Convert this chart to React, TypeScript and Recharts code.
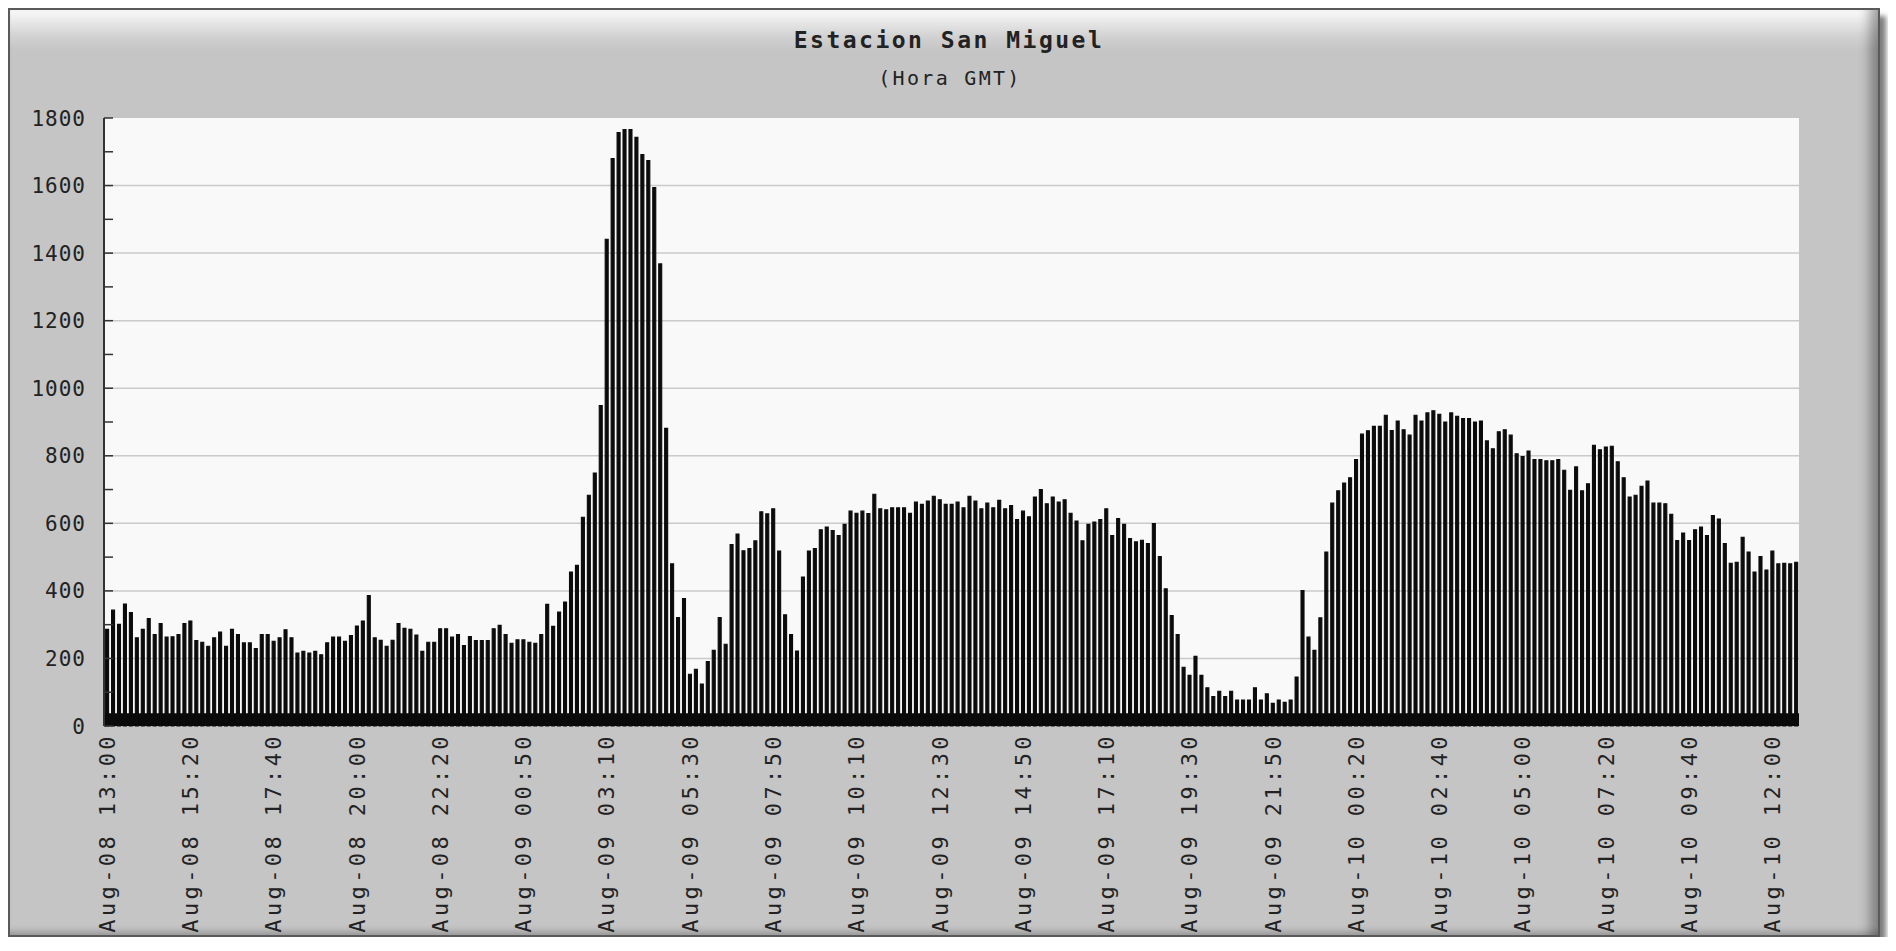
import React from "react";
import { BarChart, Bar, XAxis, YAxis, CartesianGrid, ReferenceArea } from "recharts";

// readings per calendar day, one bar per 10 minutes
const aug08Values = [
  286, 343, 301, 361, 336, 261, 286, 318, 271, 303,
  263, 264, 271, 303, 311, 253, 248, 236, 261, 278,
  236, 286, 271, 246, 246, 229, 271, 271, 251, 261,
  285, 261, 216, 221, 216, 221, 211, 246, 263, 263,
  251, 268, 296, 311, 386, 261, 254, 236, 254, 303,
  289, 286, 269, 221, 248, 248, 288, 288, 263, 271,
  238, 265, 253, 253, 253, 288,
];

const aug09Values = [
  298, 271, 245, 255, 255, 248, 245, 271, 360, 295,
  337, 367, 456, 476, 618, 683, 749, 949, 1441, 1680,
  1757, 1766, 1766, 1743, 1692, 1674, 1594, 1368, 881, 480,
  321, 377, 153, 168, 124, 191, 224, 321, 242, 537,
  568, 519, 525, 548, 634, 628, 643, 518, 329, 271,
  222, 441, 518, 525, 581, 589, 579, 564, 597, 636,
  630, 636, 629, 686, 643, 640, 646, 646, 646, 630,
  663, 656, 666, 680, 670, 656, 656, 663, 646, 680,
  666, 643, 660, 646, 668, 643, 653, 611, 636, 619,
  678, 700, 658, 678, 663, 670, 630, 607, 548, 597,
  604, 611, 643, 564, 614, 597, 555, 545, 550, 540,
  599, 502, 406, 327, 271, 174, 150, 206, 150, 113,
  87, 103, 87, 103, 77, 77, 77, 113, 77, 95,
  67, 77, 70, 77, 145, 401, 263, 224, 320, 515,
  660, 696, 719,
];

const aug10Values = [
  735, 789, 864, 874, 887, 887, 920, 875, 903, 877,
  861, 920, 903, 927, 933, 923, 900, 927, 917, 910,
  910, 900, 903, 844, 821, 871, 877, 861, 806, 798,
  814, 789, 789, 785, 785, 789, 757, 698, 767, 696,
  717, 831, 818, 826, 828, 782, 735, 678, 683, 710,
  725, 660, 660, 658, 627, 549, 571, 549, 581, 589,
  564, 623, 613, 540, 482, 485, 559, 515, 456, 502,
  462, 518, 480, 482, 480, 485,
];

// time slots with no reading
const skippedSlots = ["Aug-09 00:00", "Aug-10 00:00"];
const firstDay = 8;
const firstMinute = 13 * 60;

const yTicks = [0, 100, 200, 300, 400, 500, 600, 700, 800, 900, 1000, 1100, 1200, 1300, 1400, 1500, 1600, 1700, 1800];
const gridValues = [200, 400, 600, 800, 1000, 1200, 1400, 1600];

const pad = (n: number) => String(n).padStart(2, "0");

const values = [...aug08Values, ...aug09Values, ...aug10Values];
const times: string[] = [];
let t = firstDay * 1440 + firstMinute;
while (times.length < values.length) {
  const day = Math.floor(t / 1440);
  const m = t % 1440;
  const s = `Aug-${pad(day)} ${pad(Math.floor(m / 60))}:${pad(m % 60)}`;
  if (!skippedSlots.includes(s)) times.push(s);
  t += 10;
}
const data = values.map((v, i) => ({ time: times[i], value: v }));

const mono = "'DejaVu Sans Mono', monospace";

const TimeTick = ({ x, y, payload }: any) => (
  <text
    x={x}
    y={y}
    transform={`rotate(-90, ${x}, ${y})`}
    textAnchor="end"
    dy="0.36em"
    fontFamily={mono}
    fontSize={22}
    letterSpacing={3.4}
    fill="#222"
  >
    {payload.value}
  </text>
);

const ValueTick = ({ x, y, payload }: any) => (
  <g>
    <line x1={x} x2={x + 9} y1={y} y2={y} stroke="#333" strokeWidth={1.5} />
    {payload.value % 200 === 0 && (
      <text x={x - 18} y={y} dy="0.36em" textAnchor="end" fontFamily={mono} fontSize={21} letterSpacing={1} fill="#222">
        {payload.value}
      </text>
    )}
  </g>
);

export default function App() {
  return (
    <div
      style={{
        position: "relative",
        width: 1872,
        height: 929,
        boxSizing: "border-box",
        border: "2px solid #5a5a5a",
        background: "linear-gradient(180deg, #fafafa 0px, #d2d2d2 26px, #c5c5c5 40px, #c5c5c5 100%)",
        boxShadow:
          "inset -16px 0 12px -8px rgba(0,0,0,0.35), inset 0 -8px 6px -4px rgba(0,0,0,0.2), 6px 8px 5px rgba(0,0,0,0.5)",
      }}
    >
      <div
        style={{
          position: "absolute",
          left: 0,
          width: 1878,
          top: 17,
          textAlign: "center",
          fontFamily: mono,
          fontWeight: "bold",
          fontSize: 23,
          letterSpacing: 2.5,
          lineHeight: "26px",
          color: "#222",
        }}
      >
        Estacion San Miguel
      </div>
      <div
        style={{
          position: "absolute",
          left: 0,
          width: 1880,
          top: 56,
          textAlign: "center",
          fontFamily: mono,
          fontSize: 20,
          letterSpacing: 2.3,
          lineHeight: "24px",
          color: "#222",
        }}
      >
        (Hora GMT)
      </div>
      <div style={{ position: "absolute", left: -2, top: -2 }}>
        <BarChart
          width={1872}
          height={929}
          data={data}
          margin={{ top: 110, right: 81, left: 0, bottom: 6 }}
          barCategoryGap="27%"
        >
          <CartesianGrid
            vertical={false}
            horizontalValues={gridValues}
            fill="#f9f9f9"
            stroke="#cacaca"
            strokeWidth={1.5}
          />
          <XAxis
            dataKey="time"
            interval={13}
            tickLine={false}
            axisLine={false}
            tickSize={0}
            tickMargin={7}
            height={205}
            tick={<TimeTick />}
          />
          <YAxis
            type="number"
            domain={[0, 1800]}
            ticks={yTicks}
            interval={0}
            width={96}
            tickSize={0}
            tickMargin={0}
            tickLine={false}
            axisLine={{ stroke: "#333", strokeWidth: 2 }}
            tick={<ValueTick />}
          />
          <Bar dataKey="value" fill="#0b0b0b" stroke="#0b0b0b" strokeWidth={1.1} isAnimationActive={false} />
          <ReferenceArea y1={0} y2={38} fill="#0a0a0a" fillOpacity={1} stroke="none" />
        </BarChart>
      </div>
    </div>
  );
}
